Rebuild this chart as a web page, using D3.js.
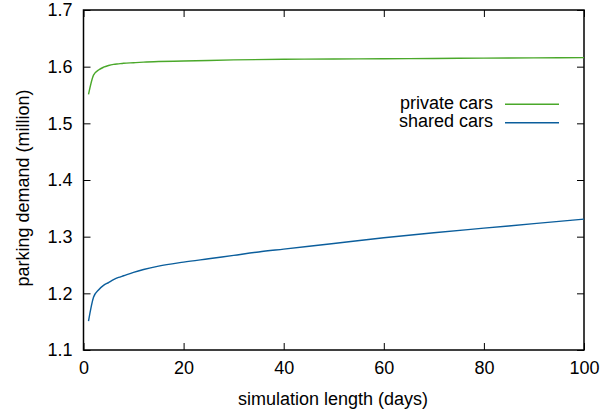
<!DOCTYPE html>
<html><head><meta charset="utf-8">
<script src="https://cdn.jsdelivr.net/npm/d3@7"></script>
<style>body{margin:0;background:#fff}svg{display:block}text{font-family:"Liberation Sans",Arial,sans-serif;fill:#000}</style>
</head><body><svg id="c" width="605" height="411"></svg>
<script>
const privateDays = [1,2,3,4,5,6,7,8,10,12,15,20,25,30,40,50,60,70,80,90,100];
const privateVals = [1.551,1.585,1.594,1.599,1.602,1.604,1.605,1.606,1.607,1.608,1.609,1.610,1.611,1.612,1.613,1.6135,1.614,1.6145,1.615,1.6155,1.616];
const sharedDays = [1,2,3,4,5,6,7,8,10,12,15,20,25,30,35,40,50,60,70,80,90,100];
const sharedVals = [1.151,1.193,1.206,1.214,1.219,1.224,1.228,1.231,1.237,1.242,1.248,1.255,1.261,1.267,1.273,1.278,1.288,1.298,1.307,1.315,1.323,1.331];
const xTicks = [0,20,40,60,80,100];
const yTicks = [1.1,1.2,1.3,1.4,1.5,1.6,1.7];
const seriesNames = ["private cars","shared cars"];
const seriesColors = ["#4aa82a","#0b5e9c"];

const svg = d3.select("#c");
const L=83.5, R=584, T=10, B=350;
const x = d3.scaleLinear().domain([0,100]).range([L,R]);
const y = d3.scaleLinear().domain([1.1,1.7]).range([B,T]);

const fs = 18;
svg.append("g").attr("transform",`translate(0,${B})`)
  .call(d3.axisBottom(x).tickValues(xTicks).tickSizeInner(-7).tickSizeOuter(0).tickPadding(11).tickFormat(d3.format("d")))
  .call(g=>{g.select(".domain").remove();g.selectAll("text").style("font-size",fs+"px");});
svg.append("g").attr("transform",`translate(0,${T})`)
  .call(d3.axisTop(x).tickValues(xTicks).tickSizeInner(-7).tickSizeOuter(0).tickFormat(""))
  .call(g=>g.select(".domain").remove());
svg.append("g").attr("transform",`translate(${L},0)`)
  .call(d3.axisLeft(y).tickValues(yTicks).tickSizeInner(-7).tickSizeOuter(0).tickPadding(11).tickFormat(d3.format(".1f")))
  .call(g=>{g.select(".domain").remove();g.selectAll("text").style("font-size",fs+"px");});
svg.append("g").attr("transform",`translate(${R},0)`)
  .call(d3.axisRight(y).tickValues(yTicks).tickSizeInner(-7).tickSizeOuter(0).tickFormat(""))
  .call(g=>g.select(".domain").remove());
svg.selectAll(".tick line").attr("stroke","#000").attr("stroke-width",1);

svg.append("rect").attr("x",L).attr("y",T).attr("width",R-L).attr("height",B-T)
  .attr("fill","none").attr("stroke","#000").attr("stroke-width",1.5);

const line = d3.line().x(d=>x(d[0])).y(d=>y(d[1])).curve(d3.curveMonotoneX);
const series = [d3.zip(privateDays,privateVals), d3.zip(sharedDays,sharedVals)];
series.forEach((s,i)=>{
  svg.append("path").datum(s).attr("d",line).attr("fill","none")
    .attr("stroke",seriesColors[i]).attr("stroke-width",1.4).attr("stroke-linejoin","round");
});

seriesNames.forEach((n,i)=>{
  const ly = 104.3 + i*18.4;
  svg.append("text").attr("x",493).attr("y",109 + i*18.3).attr("text-anchor","end")
    .style("font-size",fs+"px").text(n);
  svg.append("line").attr("x1",505).attr("x2",559).attr("y1",ly).attr("y2",ly)
    .attr("stroke",seriesColors[i]).attr("stroke-width",1.4);
});

svg.append("text").attr("x",333).attr("y",405).attr("text-anchor","middle")
  .style("font-size",fs+"px").text("simulation length (days)");
svg.append("text").attr("transform",`translate(29,188) rotate(-90)`).attr("text-anchor","middle")
  .style("font-size",fs+"px").text("parking demand (million)");
</script></body></html>
